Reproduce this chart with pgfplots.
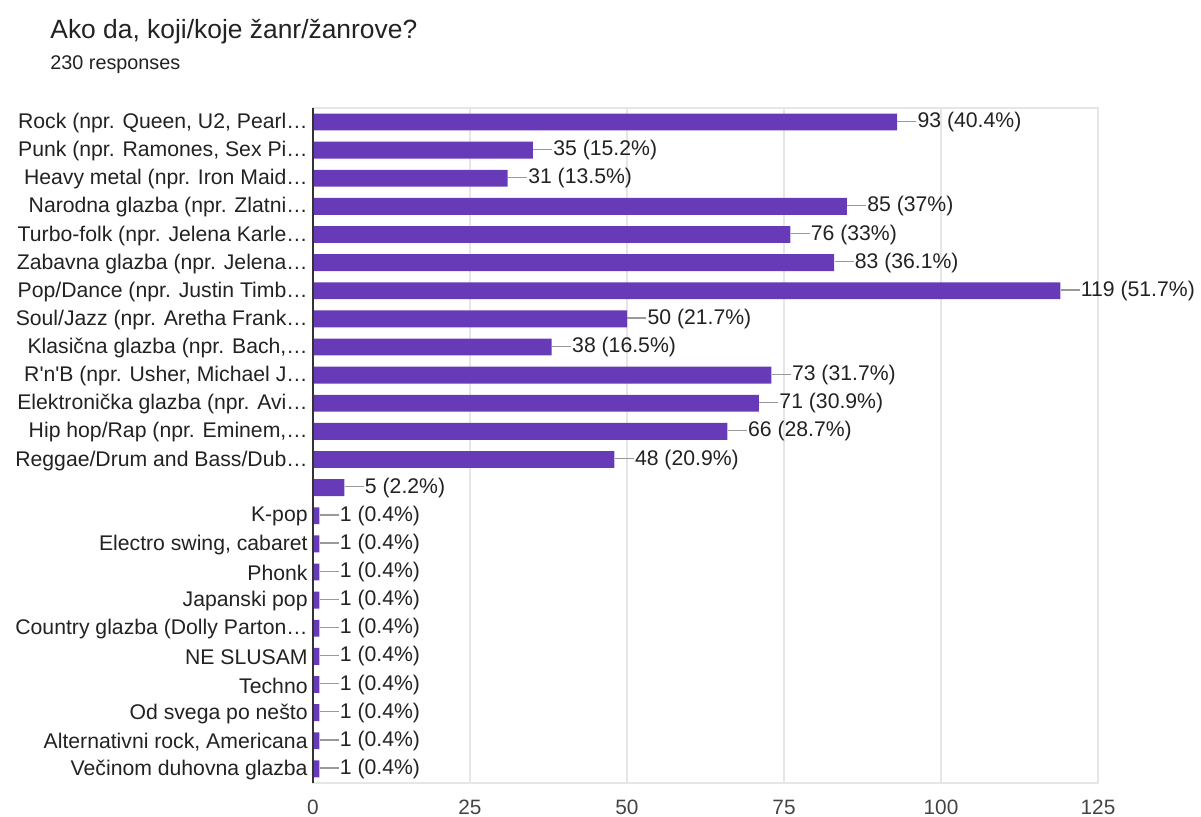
\documentclass[border=0pt]{standalone}
\usepackage{pgfplots}
\pgfplotsset{compat=1.18}
\usepackage{fontspec}
\setmainfont{Liberation Sans}

\definecolor{barpurple}{HTML}{673AB7}
\definecolor{gridgray}{HTML}{E6E6E6}
\definecolor{txt}{HTML}{222222}
\definecolor{ticktxt}{HTML}{444444}
\definecolor{leader}{HTML}{999999}
\definecolor{axisdark}{HTML}{333333}

\begin{document}
\begin{tikzpicture}
\useasboundingbox (0,0) rectangle (600.5pt,408.5pt);
\node[anchor=base west, inner sep=0pt, text=txt,
      font=\fontsize{13.2}{15}\selectfont] at (25pt,389pt) {Ako da, koji/koje žanr/žanrove?};
\node[anchor=base west, inner sep=0pt, text=txt,
      font=\fontsize{9.9}{12}\selectfont] at (25pt,373.5pt) {230 responses};

\begin{axis}[
    at={(156.5pt,17pt)}, anchor=south west,
    scale only axis, width=392.5pt, height=337.5pt,
    xbar, bar width=0.6,
    xmin=0, xmax=125, ymin=-0.5, ymax=23.5, y dir=reverse,
    xtick={0,25,...,125}, ytick={0,...,23},
    yticklabels={
      {Rock (npr. Queen, U2, Pearl…},
      {Punk (npr. Ramones, Sex Pi…},
      {Heavy metal (npr. Iron Maid…},
      {Narodna glazba (npr. Zlatni…},
      {Turbo-folk (npr. Jelena Karle…},
      {Zabavna glazba (npr. Jelena…},
      {Pop/Dance (npr. Justin Timb…},
      {Soul/Jazz (npr. Aretha Frank…},
      {Klasična glazba (npr. Bach,…},
      {R\textquotesingle n\textquotesingle B (npr. Usher, Michael J…},
      {Elektronička glazba (npr. Avi…},
      {Hip hop/Rap (npr. Eminem,…},
      {Reggae/Drum and Bass/Dub…},
      {},
      {K-pop},
      {Electro swing, cabaret},
      {Phonk},
      {Japanski pop},
      {Country glazba (Dolly Parton…},
      {NE SLUSAM},
      {Techno},
      {Od svega po nešto},
      {Alternativni rock, Americana},
      {Večinom duhovna glazba}},
    major tick length=0pt,
    xmajorgrids, grid style={gridgray, line width=0.6pt},
    axis line style={gridgray, line width=0.6pt},
    /pgf/number format/assume math mode=true,
    xticklabel style={anchor=base, yshift=-16pt, text=ticktxt,
      font=\fontsize{10.4}{12}\selectfont},
    yticklabel style={anchor=east, inner sep=0pt, xshift=-2.5pt, yshift=-0.5pt, text=txt,
      font=\fontsize{10.6}{12}\selectfont},
    clip=false,
    point meta=explicit symbolic,
    nodes near coords={\textcolor{leader}{\rule[0.27em]{9.5pt}{0.6pt}}\hspace{0.6pt}\pgfplotspointmeta},
    every node near coord/.append style={anchor=west, inner sep=0pt, text=txt,
      font=\fontsize{10.6}{12}\selectfont},
  ]
  \addplot[fill=barpurple, draw=none] coordinates {
    (93,0) [93 (40.4\%)]
    (35,1) [35 (15.2\%)]
    (31,2) [31 (13.5\%)]
    (85,3) [85 (37\%)]
    (76,4) [76 (33\%)]
    (83,5) [83 (36.1\%)]
    (119,6) [119 (51.7\%)]
    (50,7) [50 (21.7\%)]
    (38,8) [38 (16.5\%)]
    (73,9) [73 (31.7\%)]
    (71,10) [71 (30.9\%)]
    (66,11) [66 (28.7\%)]
    (48,12) [48 (20.9\%)]
    (5,13) [5 (2.2\%)]
    (1,14) [1 (0.4\%)]
    (1,15) [1 (0.4\%)]
    (1,16) [1 (0.4\%)]
    (1,17) [1 (0.4\%)]
    (1,18) [1 (0.4\%)]
    (1,19) [1 (0.4\%)]
    (1,20) [1 (0.4\%)]
    (1,21) [1 (0.4\%)]
    (1,22) [1 (0.4\%)]
    (1,23) [1 (0.4\%)]
  };
  \draw[axisdark, line width=0.8pt] (axis cs:0,-0.5) -- (axis cs:0,23.5);
\end{axis}
\end{tikzpicture}
\end{document}
